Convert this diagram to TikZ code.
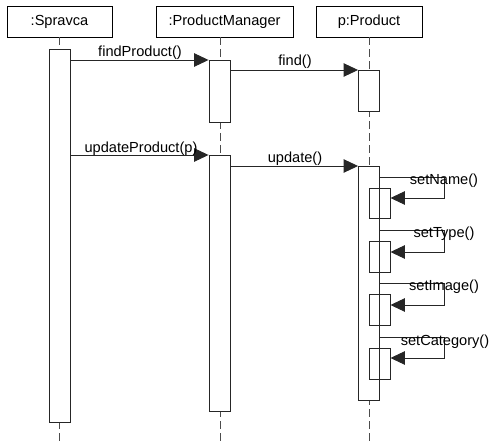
\documentclass[tikz,border=0pt]{standalone}
\usepackage{fontspec}
\setmainfont{Liberation Sans}
\usetikzlibrary{arrows.meta}
\begin{document}
\begin{tikzpicture}[x=1pt,y=-1pt,
  every node/.style={font=\fontsize{14.6}{16}\selectfont},
  header/.style={draw=black, line width=0.9pt, minimum height=31pt, inner sep=0pt},
  act/.style={draw=black!85, fill=white, line width=0.9pt, minimum width=21pt, anchor=north, inner sep=0pt},
  nested/.style={draw=black!85, line width=0.9pt, minimum width=21pt, anchor=north, inner sep=0pt},
  lifeline/.style={draw=black!70, line width=0.9pt, dash pattern=on 8pt off 4pt},
  msg/.style={draw=black!85, line width=0.9pt, -{Triangle[length=14.5pt,width=13.5pt]}},
  lbl/.style={inner sep=0pt}
]
\useasboundingbox (0,0) rectangle (493,441);

% object headers
\node[header, minimum width=105pt] (spravca) at (59.5,21.5) {:Spravca};
\node[header, minimum width=137pt] (pm) at (224.5,21.5) {:ProductManager};
\node[header, minimum width=106pt] (prod) at (369,21.5) {p:Product};

% lifelines
\coordinate (sEnd) at (59.5,441);
\coordinate (pmTop) at (220,37);
\coordinate (pmEnd) at (220,441);
\coordinate (pEnd) at (369,441);
\draw[lifeline] (spravca.south) -- (sEnd);
\draw[lifeline] (pmTop) -- (pmEnd);
\draw[lifeline] (prod.south) -- (pEnd);

% activation bars
\node[act, minimum height=373pt] (sA) at (59.5,49) {};
\node[act, minimum height=62pt] (pm1) at (219.5,60) {};
\node[act, minimum height=256pt] (pm2) at (219.5,155) {};
\node[act, minimum height=41pt] (p1) at (369,70) {};
\node[act, minimum height=234pt] (p2) at (369,166) {};

% nested activations for the self calls
\node[nested, minimum height=30pt] (n1) at (379.5,188) {};
\node[nested, minimum height=31pt] (n2) at (379.5,241) {};
\node[nested, minimum height=31pt] (n3) at (379.5,294) {};
\node[nested, minimum height=31pt] (n4) at (379.5,348) {};

% calls
\draw[msg] (sA.east |- pm1.north) -- (pm1.north west);
\node[lbl] (l1) at (140,53) {findProduct()};
\draw[msg] (pm1.east |- p1.north) -- (p1.north west);
\node[lbl] (l2) at (295,62) {find()};
\draw[msg] (sA.east |- pm2.north) -- (pm2.north west);
\node[lbl] (l3) at (141,149) {updateProduct(p)};
\draw[msg] (pm2.east |- p2.north) -- (p2.north west);
\node[lbl] (l4) at (295,159) {update()};

% self calls
\coordinate (c1a) at (444,177); \coordinate (c1b) at (444,198);
\coordinate (c2a) at (444,230); \coordinate (c2b) at (444,252);
\coordinate (c3a) at (444,283); \coordinate (c3b) at (444,305);
\coordinate (c4a) at (444,337); \coordinate (c4b) at (444,358);
\draw[msg] (p2.east |- c1a) -- (c1a) -- (c1b) -- (n1.east |- c1b);
\draw[msg] (p2.east |- c2a) -- (c2a) -- (c2b) -- (n2.east |- c2b);
\draw[msg] (p2.east |- c3a) -- (c3a) -- (c3b) -- (n3.east |- c3b);
\draw[msg] (p2.east |- c4a) -- (c4a) -- (c4b) -- (n4.east |- c4b);
\node[lbl] (s1) at (444,181) {setName()};
\node[lbl] (s2) at (444,234) {setType()};
\node[lbl] (s3) at (444,287) {setImage()};
\node[lbl] (s4) at (445,342) {setCategory()};
\end{tikzpicture}
\end{document}
